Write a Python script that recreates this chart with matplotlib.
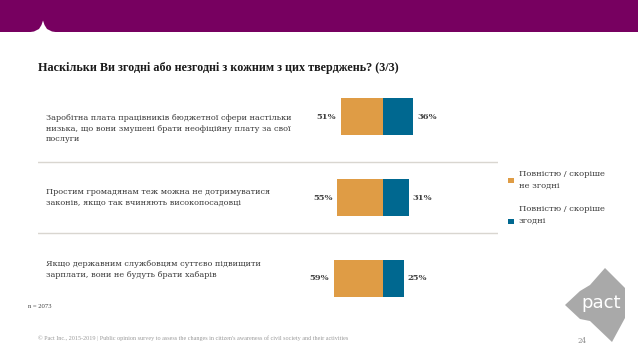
import matplotlib
matplotlib.use("Agg")
import matplotlib.pyplot as plt
from matplotlib.patches import Polygon, Rectangle

# ---- data ----
categories = [
    "Заробітна плата працівників бюджетної сфери настільки\nнизька, що вони змушені брати неофіційну плату за свої\nпослуги",
    "Простим громадянам теж можна не дотримуватися\nзаконів, якщо так вчиняють високопосадовці",
    "Якщо державним службовцям суттєво підвищити\nзарплати, вони не будуть брати хабарів",
]
disagree = [51, 55, 59]
agree = [36, 31, 25]
series_names = ["Повністю / скоріше\nне згодні", "Повністю / скоріше\nзгодні"]
title = "Наскільки Ви згодні або незгодні з кожним з цих тверджень? (3/3)"
n_note = "n = 2073"
footer = ("© Pact Inc., 2015-2019 | Public opinion survey to assess the changes in citizen's "
          "awareness of civil society and their activities")
page = "24"

ORANGE = "#DF9C45"
BLUE = "#006890"
PURPLE = "#770060"
W, H = 638, 359

fig = plt.figure(figsize=(W / 100, H / 100), dpi=100)
fig.patch.set_facecolor("white")

def px(x, y):
    return (x / W, 1 - y / H)

# top band
fig.patches.append(Rectangle(px(0, 32), 1, 32 / H, transform=fig.transFigure,
                             facecolor=PURPLE, edgecolor="none", zorder=0))
notch = [(27, 32.5), (34, 31.5), (39, 29), (41.5, 25), (43, 20.5), (44.5, 25), (47, 29), (52, 31.5), (59, 32.5)]
fig.patches.append(Polygon([px(*p) for p in notch], closed=True, transform=fig.transFigure,
                           facecolor="white", edgecolor="none", zorder=1))

# title
fig.text(*px(38, 68), title, fontsize=8.7, fontweight="bold", family="Liberation Serif",
         color="#1a1a1a", va="center", ha="left")

# bars axes
scale = 0.83  # px per %
center_px = 383
left_px, right_px = 38, 498
top_px, bot_px = 76, 319
ax = fig.add_axes([left_px / W, 1 - bot_px / H, (right_px - left_px) / W, (bot_px - top_px) / H])
ax.set_xlim(-(center_px - left_px) / scale, (right_px - center_px) / scale)
ax.set_ylim(2.5, -0.5)
ax.axis("off")

ys = list(range(len(categories)))
ax.barh(ys, [-d for d in disagree], height=0.45, color=ORANGE, edgecolor="none")
ax.barh(ys, agree, height=0.45, color=BLUE, edgecolor="none")

for y, d, a in zip(ys, disagree, agree):
    ax.annotate(f"{d}%", (-d, y), xytext=(-3.5, 0), textcoords="offset points",
                ha="right", va="center", fontsize=6.0, fontweight="bold",
                family="DejaVu Serif", color="#404040")
    ax.annotate(f"{a}%", (a, y), xytext=(3, 0), textcoords="offset points",
                ha="left", va="center", fontsize=6.0, fontweight="bold",
                family="DejaVu Serif", color="#404040")

for sep in [0.56, 1.44]:
    ax.axhline(sep, color="#d9d6d0", lw=1)

# category labels
label_x = ax.get_xlim()[0] + (46 - left_px) / scale
label_offsets = [0.15, 0.0, -0.11]
for y, cat, off in zip(ys, categories, label_offsets):
    ax.text(label_x, y + off, cat, ha="left", va="center", fontsize=5.9,
            family="DejaVu Serif", color="#3a3a3a", linespacing=1.42)

# legend
leg_items = [(series_names[0], ORANGE, 180.5, 180), (series_names[1], BLUE, 221.5, 215)]
for name, col, sq_y, txt_y in leg_items:
    fig.patches.append(Rectangle(px(508, sq_y + 2.5), 5.5 / W, 5.5 / H, transform=fig.transFigure,
                                 facecolor=col, edgecolor="none"))
    fig.text(*px(519, txt_y), name, fontsize=6.0, family="DejaVu Serif", color="#3a3a3a",
             va="center", ha="left", linespacing=1.5)

# notes
fig.text(*px(28, 306), n_note, fontsize=4.8, family="Liberation Serif", color="#404040",
         va="center", ha="left")
fig.text(*px(38, 338), footer, fontsize=4.4, family="Liberation Serif", color="#9a9a9a",
         va="center", ha="left")
fig.text(*px(582, 341), page, fontsize=5, family="DejaVu Serif", color="#8a8a8a",
         va="center", ha="center")

# logo
logo = [(605, 268), (625, 288), (625, 318), (612, 342), (590, 321), (580, 319), (565, 305),
        (580, 291), (590, 285)]
fig.patches.append(Polygon([px(*p) for p in logo], closed=True, transform=fig.transFigure,
                           facecolor="#a9a9a9", edgecolor="none"))
fig.text(*px(601, 303), "pact", fontsize=13, family="DejaVu Sans", color="white",
         va="center", ha="center")

fig.savefig("out.png", dpi=100)
